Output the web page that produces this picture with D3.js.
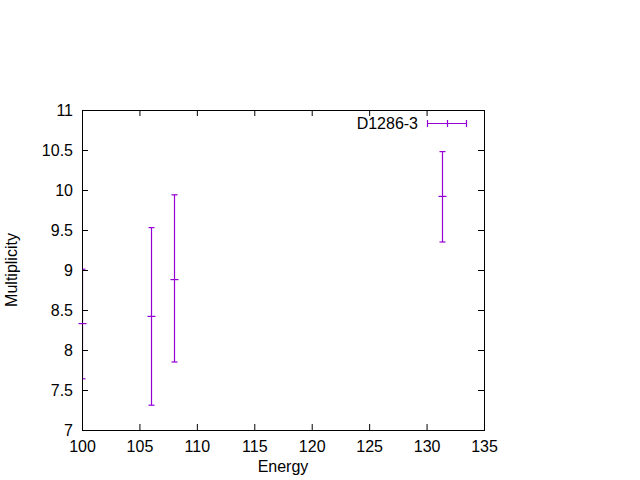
<!DOCTYPE html>
<html><head><meta charset="utf-8">
<script src="https://cdn.jsdelivr.net/npm/d3@7"></script>
<style>body{margin:0;background:#fff}svg{display:block}text{font-family:"Liberation Sans",Arial,sans-serif;font-size:16px;fill:#000}</style>
</head><body>
<script>
const energy = [100, 106, 108, 131.3];
const multiplicity = [8.33, 8.42, 8.88, 9.92];
const errLow = [7.64, 7.31, 7.85, 9.35];
const errHigh = [9.01, 9.53, 9.94, 10.48];
const xTicks = [100, 105, 110, 115, 120, 125, 130, 135];
const yTicks = [7, 7.5, 8, 8.5, 9, 9.5, 10, 10.5, 11];
const seriesName = "D1286-3";
const color = "#9400D3";

const W = 640, H = 480;
const m = {l: 82, r: 484, t: 110, b: 430};
const svg = d3.select("body").append("svg").attr("width", W).attr("height", H);
const x = d3.scaleLinear().domain([100, 135]).range([m.l, m.r]);
const y = d3.scaleLinear().domain([7, 11]).range([m.b, m.t]);

svg.append("clipPath").attr("id", "clip").append("rect")
  .attr("x", m.l).attr("y", m.t).attr("width", m.r - m.l).attr("height", m.b - m.t);

// error bars
const data = energy.map((e, i) => ({e, m: multiplicity[i], lo: errLow[i], hi: errHigh[i]}));
const clipped = svg.append("g").attr("clip-path", "url(#clip)").attr("stroke", color).attr("stroke-width", 1.2);
data.forEach(d => {
  const cx = Math.round(x(d.e)) + 0.5;
  clipped.append("line").attr("x1", cx).attr("x2", cx).attr("y1", y(d.lo)).attr("y2", y(d.hi));
  [d.lo, d.hi].forEach(v => {
    clipped.append("line").attr("x1", cx - 3).attr("x2", cx + 3).attr("y1", y(v)).attr("y2", y(v));
  });
});

// axes with inward ticks
const tl = 6;
const gB = svg.append("g").attr("transform", `translate(0,${m.b})`)
  .call(d3.axisBottom(x).tickValues(xTicks).tickSize(-tl).tickPadding(tl + 5).tickFormat(d3.format("d")));
const gT = svg.append("g").attr("transform", `translate(0,${m.t})`)
  .call(d3.axisTop(x).tickValues(xTicks).tickSize(-tl).tickFormat(""));
const gL = svg.append("g").attr("transform", `translate(${m.l},0)`)
  .call(d3.axisLeft(y).tickValues(yTicks).tickSize(-tl).tickPadding(tl + 3).tickFormat(d => String(d)));
const gR = svg.append("g").attr("transform", `translate(${m.r},0)`)
  .call(d3.axisRight(y).tickValues(yTicks).tickSize(-tl).tickFormat(""));
[gB, gT, gL, gR].forEach(g => {
  g.select(".domain").remove();
  g.selectAll("line").attr("stroke", "#000");
  g.selectAll("text").style("font-size", "16px").style("font-family", '"Liberation Sans",Arial,sans-serif').attr("fill", "#000");
});
gB.selectAll("text").attr("dy", "0.71em");
svg.append("rect").attr("x", m.l + 0.5).attr("y", m.t + 0.5)
  .attr("width", m.r - m.l).attr("height", m.b - m.t)
  .attr("fill", "none").attr("stroke", "#000");

// point markers (drawn over frame)
const pts = svg.append("g").attr("stroke", color).attr("stroke-width", 1.2);
data.forEach(d => {
  const cx = Math.round(x(d.e)) + 0.5;
  pts.append("line").attr("x1", cx - 4).attr("x2", cx + 4).attr("y1", y(d.m)).attr("y2", y(d.m));
});

// axis titles
svg.append("text").attr("x", (m.l + m.r) / 2).attr("y", 472).attr("text-anchor", "middle").text("Energy");
svg.append("text").attr("transform", `translate(17,${(m.t + m.b) / 2}) rotate(-90)`)
  .attr("text-anchor", "middle").text("Multiplicity");

// legend
const ly = 123;
svg.append("text").attr("x", 418).attr("y", ly).attr("dy", "0.35em").attr("text-anchor", "end").text(seriesName);
const lg = svg.append("g").attr("stroke", color).attr("stroke-width", 1.2);
lg.append("line").attr("x1", 427).attr("x2", 466).attr("y1", ly + 0.5).attr("y2", ly + 0.5);
[427, 466].forEach(xx => lg.append("line").attr("x1", xx + 0.5).attr("x2", xx + 0.5).attr("y1", ly - 3).attr("y2", ly + 4));
lg.append("line").attr("x1", 447.5).attr("x2", 447.5).attr("y1", ly - 3).attr("y2", ly + 4);
</script>
</body></html>
